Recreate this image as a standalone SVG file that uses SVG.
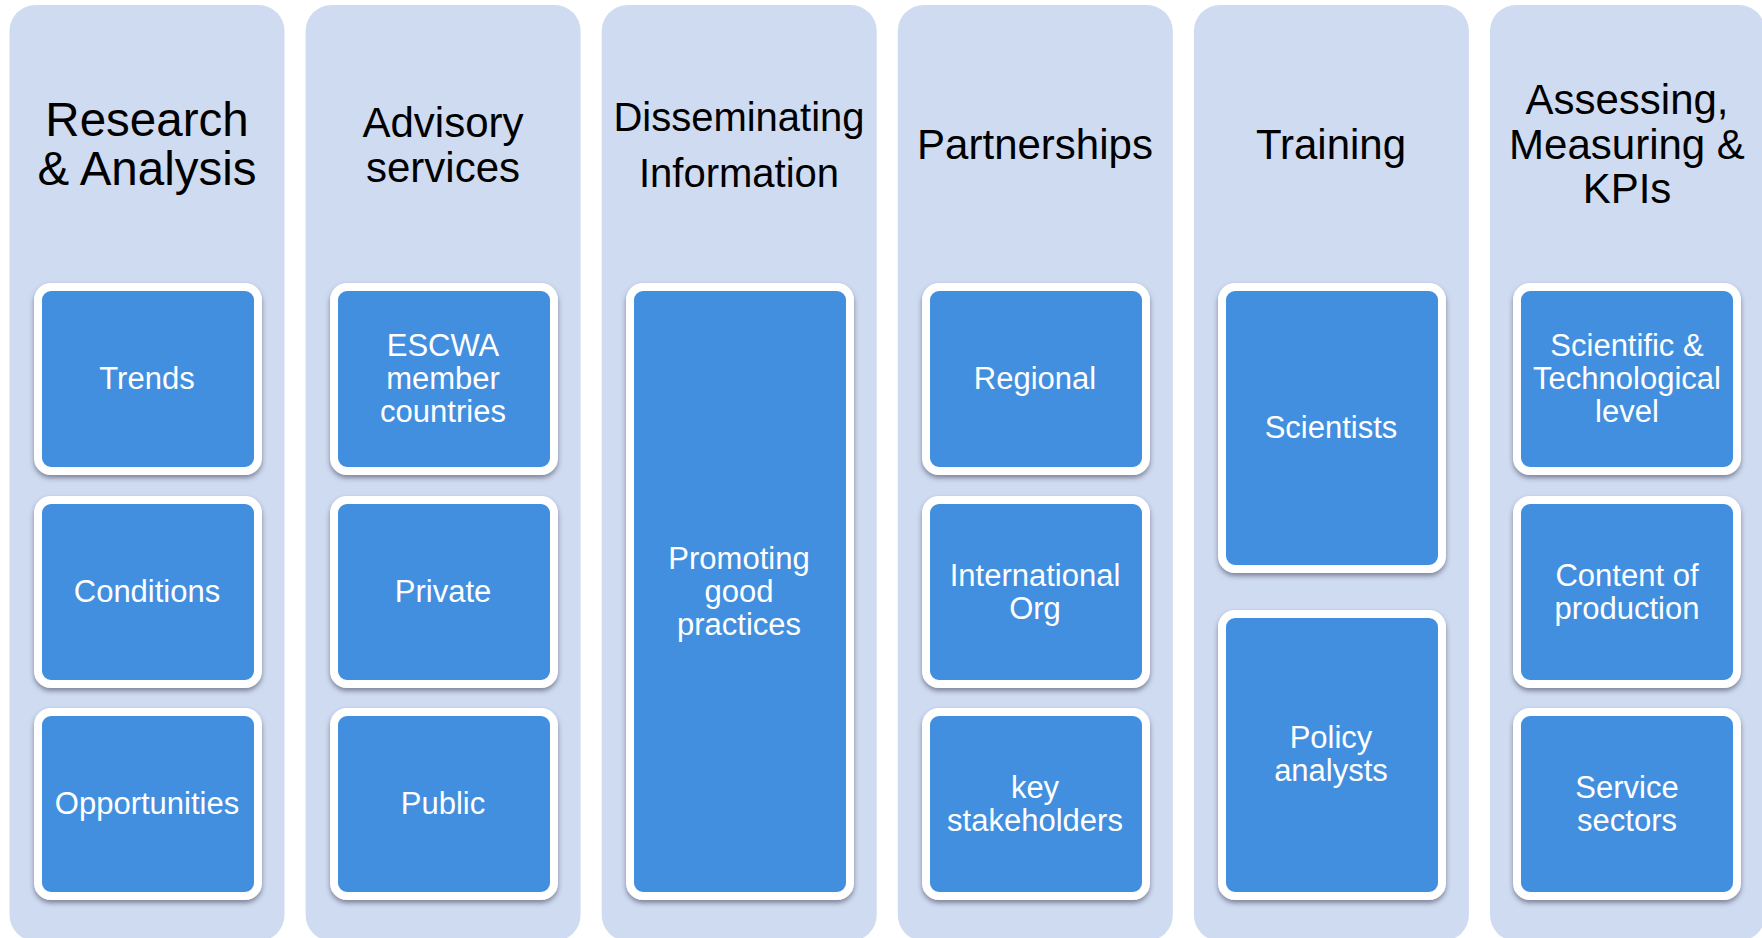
<svg xmlns="http://www.w3.org/2000/svg" width="1762" height="938" viewBox="0 0 1762 938">
<defs>
<style>
.col{fill:#CFDBF1}
.box{fill:#438FDF;stroke:#FFFFFF;stroke-width:8;filter:url(#sh)}
.hd{font-family:"Liberation Sans",Arial,sans-serif;fill:#000;text-anchor:middle}
.tx{font-family:"Liberation Sans",Arial,sans-serif;fill:#FFF;text-anchor:middle;font-size:31px}
</style>
<filter id="sh" x="-10%" y="-10%" width="120%" height="125%">
<feDropShadow dx="0" dy="3" stdDeviation="2.5" flood-color="#3a3a50" flood-opacity="0.55"/>
</filter>
</defs>
<g id="col-research">
<rect class="col" x="9.5" y="5" width="275" height="936" rx="26"/>
<text class="hd" font-size="47.5"><tspan x="147" y="136">Research</tspan><tspan x="147" y="185">&amp; Analysis</tspan></text>
<g id="n-trends"><rect class="box" x="38" y="287" width="220" height="184" rx="13"/><text class="tx" x="147" y="389">Trends</text></g>
<g id="n-conditions"><rect class="box" x="38" y="500" width="220" height="184" rx="13"/><text class="tx" x="147" y="602">Conditions</text></g>
<g id="n-opportunities"><rect class="box" x="38" y="712" width="220" height="184" rx="13"/><text class="tx" x="147" y="814">Opportunities</text></g>
</g>
<g id="col-advisory">
<rect class="col" x="305.6" y="5" width="275" height="936" rx="26"/>
<text class="hd" font-size="42"><tspan x="443" y="137">Advisory</tspan><tspan x="443" y="182">services</tspan></text>
<g id="n-escwa"><rect class="box" x="334" y="287" width="220" height="184" rx="13"/><text class="tx"><tspan x="443" y="356">ESCWA</tspan><tspan x="443" y="389">member</tspan><tspan x="443" y="422">countries</tspan></text></g>
<g id="n-private"><rect class="box" x="334" y="500" width="220" height="184" rx="13"/><text class="tx" x="443" y="602">Private</text></g>
<g id="n-public"><rect class="box" x="334" y="712" width="220" height="184" rx="13"/><text class="tx" x="443" y="814">Public</text></g>
</g>
<g id="col-disseminating">
<rect class="col" x="601.7" y="5" width="275" height="936" rx="26"/>
<text class="hd" font-size="40"><tspan x="739" y="131">Disseminating</tspan><tspan x="739" y="187">Information</tspan></text>
<g id="n-promoting"><rect class="box" x="630" y="287" width="220" height="609" rx="13"/><text class="tx"><tspan x="739" y="569">Promoting</tspan><tspan x="739" y="602">good</tspan><tspan x="739" y="635">practices</tspan></text></g>
</g>
<g id="col-partnerships">
<rect class="col" x="897.8" y="5" width="275" height="936" rx="26"/>
<text class="hd" font-size="42" x="1035" y="159">Partnerships</text>
<g id="n-regional"><rect class="box" x="926" y="287" width="220" height="184" rx="13"/><text class="tx" x="1035" y="389">Regional</text></g>
<g id="n-intl"><rect class="box" x="926" y="500" width="220" height="184" rx="13"/><text class="tx"><tspan x="1035" y="586">International</tspan><tspan x="1035" y="619">Org</tspan></text></g>
<g id="n-key"><rect class="box" x="926" y="712" width="220" height="184" rx="13"/><text class="tx"><tspan x="1035" y="798">key</tspan><tspan x="1035" y="831">stakeholders</tspan></text></g>
</g>
<g id="col-training">
<rect class="col" x="1193.9" y="5" width="275" height="936" rx="26"/>
<text class="hd" font-size="42" x="1331" y="159">Training</text>
<g id="n-scientists"><rect class="box" x="1222" y="287" width="220" height="282" rx="13"/><text class="tx" x="1331" y="438">Scientists</text></g>
<g id="n-policy"><rect class="box" x="1222" y="614" width="220" height="282" rx="13"/><text class="tx"><tspan x="1331" y="748">Policy</tspan><tspan x="1331" y="781">analysts</tspan></text></g>
</g>
<g id="col-assessing">
<rect class="col" x="1490" y="5" width="275" height="936" rx="26"/>
<text class="hd" font-size="42"><tspan x="1627" y="114">Assessing,</tspan><tspan x="1627" y="159">Measuring &amp;</tspan><tspan x="1627" y="203">KPIs</tspan></text>
<g id="n-scitech"><rect class="box" x="1517" y="287" width="220" height="184" rx="13"/><text class="tx"><tspan x="1627" y="356">Scientific &amp;</tspan><tspan x="1627" y="389">Technological</tspan><tspan x="1627" y="422">level</tspan></text></g>
<g id="n-content"><rect class="box" x="1517" y="500" width="220" height="184" rx="13"/><text class="tx"><tspan x="1627" y="586">Content of</tspan><tspan x="1627" y="619">production</tspan></text></g>
<g id="n-service"><rect class="box" x="1517" y="712" width="220" height="184" rx="13"/><text class="tx"><tspan x="1627" y="798">Service</tspan><tspan x="1627" y="831">sectors</tspan></text></g>
</g>
<g id="connectors"></g>
</svg>
